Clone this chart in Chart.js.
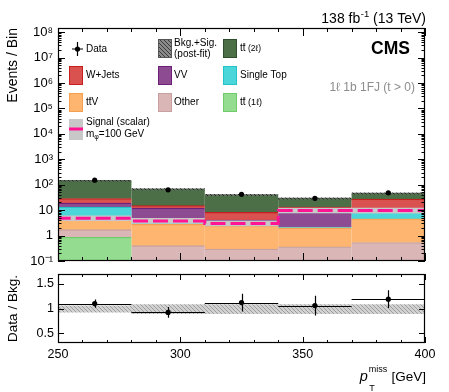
<!DOCTYPE html>
<html><head><meta charset="utf-8">
<script src="https://cdn.jsdelivr.net/npm/chart.js@4.4.1/dist/chart.umd.min.js"></script>
<style>
html,body{margin:0;padding:0;background:#fff;}
#wrap{position:relative;width:449px;height:392px;}
canvas{position:absolute;left:0;top:0;}
</style></head><body>
<div id="wrap"><canvas id="main" width="449" height="392"></canvas><canvas id="ratio" width="449" height="392"></canvas></div>
<script>
// ---------------- data ----------------
const binEdges = [250, 280, 310, 340, 370, 400];
const ttbar1l   = [0.83, 0, 0, 0, 0];
const other     = [0.83, 0.39, 0.29, 0.35, 0.52];
const ttV       = [2.8, 2.3, 2.1, 1.6, 3.9];
const singleTop = [8.5, 1.5, 0.4, 0.15, 4.1];
const vv        = [5.7, 7.6, 1.2, 5.4, 2.5];
const wjets     = [9.3, 2.8, 4.0, 5.4, 15.8];
const ttbar2l   = [117, 53, 32, 16.4, 19];
const signal    = [5.9, 4.8, 3.76, 3.0, 9.6];
const signalLo  = [4.5, 3.7, 2.9, 2.3, 7.4];
const signalHi  = [7.6, 6.2, 4.9, 3.9, 12.4];
const dataCounts = [150, 63, 42, 29, 48];
const dataErr    = [12, 8, 6.5, 5.4, 7];
const ratioVals  = [1.10, 0.92, 1.12, 1.06, 1.19];
const ratioErr   = [0.085, 0.11, 0.18, 0.20, 0.18];
const uncLo      = [0.93, 0.90, 0.90, 0.90, 0.90];
const uncHi      = [1.05, 1.075, 1.075, 1.075, 1.075];
const xTickValues = [250, 300, 350, 400];
const xTickLabels = ['250', '300', '350', '400'];
const yTickValues = [0.1, 1, 10, 1e2, 1e3, 1e4, 1e5, 1e6, 1e7, 1e8];
const yTickLabels = ['10\u207B\u00B9', '1', '10', '10\u00B2', '10\u00B3', '10\u2074', '10\u2075', '10\u2076', '10\u2077', '10\u2078'];
const ratioTickValues = [0.5, 1, 1.5];
const ratioTickLabels = ['0.5', '1', '1.5'];

const FF = '"Liberation Sans", Arial, Helvetica, sans-serif';
const centers = binEdges.slice(0, -1).map((e, i) => (e + binEdges[i + 1]) / 2);
const toXY = arr => arr.map((v, i) => ({x: centers[i], y: v}));
const stepXY = arr => binEdges.map((e, i) => ({x: e, y: arr[Math.min(i, arr.length - 1)]}));

const components = [
  {label: 'tt\u0304 (1\u2113)', data: ttbar1l,   bg: '#94dc90', bd: '#70cc6a'},
  {label: 'Other',              data: other,     bg: '#dab6b6', bd: '#c9a0a0'},
  {label: 'tt\u0304V',          data: ttV,       bg: '#feb56f', bd: '#f5a050'},
  {label: 'Single Top',         data: singleTop, bg: '#4bd7d9', bd: '#22c2c6'},
  {label: 'VV',                 data: vv,        bg: '#8d4b92', bd: '#6d1f78'},
  {label: 'W+Jets',             data: wjets,     bg: '#da5250', bd: '#c41e1e'},
  {label: 'tt\u0304 (2\u2113)', data: ttbar2l,   bg: '#4c6f48', bd: '#2f4f2c'}
];
const totals = centers.map((c, i) => components.reduce((s, k) => s + k.data[i], 0));

function makeHatch(canvasId, bg, fg, size, lw) {
  const c = document.createElement('canvas'); c.width = size; c.height = size;
  const g = c.getContext('2d');
  if (bg) { g.fillStyle = bg; g.fillRect(0, 0, size, size); }
  g.strokeStyle = fg; g.lineWidth = lw; g.beginPath();
  g.moveTo(0, 0); g.lineTo(size, size);
  g.moveTo(-size / 2, size / 2); g.lineTo(size / 2, size * 1.5);
  g.moveTo(size / 2, -size / 2); g.lineTo(size * 1.5, size / 2);
  g.stroke();
  return document.getElementById(canvasId).getContext('2d').createPattern(c, 'repeat');
}
const mainHatch = makeHatch('main', 'rgba(120,120,120,0.55)', 'rgba(30,30,30,0.9)', 4, 1);
const legendHatch = makeHatch('main', '#8a8a8a', '#3a3a3a', 4, 1);
const ratioHatch = makeHatch('ratio', '#d2d2d2', '#9c9c9c', 4, 1);

// ---------------- helpers ----------------
function txt(ctx, s, x, y, size, o = {}) {
  ctx.font = `${o.bold ? 'bold ' : ''}${o.italic ? 'italic ' : ''}${size}px ${FF}`;
  ctx.fillStyle = o.color || '#000';
  ctx.textAlign = o.align || 'left';
  ctx.textBaseline = o.base || 'middle';
  ctx.fillText(s, x, y);
  return ctx.measureText(s).width;
}
function ttbarTxt(ctx, x, y, size) {
  const w = txt(ctx, 'tt', x, y, size);
  const wt = ctx.measureText('t').width;
  ctx.save(); ctx.strokeStyle = '#000'; ctx.lineWidth = 0.8; ctx.beginPath();
  ctx.moveTo(x + wt + 0.4, y - size * 0.46); ctx.lineTo(x + 2 * wt - 0.2, y - size * 0.46); ctx.stroke(); ctx.restore();
  return w;
}
function drawFrameTicks(chart, cfg) {
  const {ctx, chartArea: a} = chart;
  const xs = chart.scales.x;
  ctx.save();
  ctx.strokeStyle = '#000'; ctx.lineWidth = 1;
  ctx.beginPath();
  for (let v = xs.min; v <= xs.max + 1e-9; v += 10) {
    const px = Math.round(xs.getPixelForValue(v)) + 0.5;
    const L = (Math.abs(v % 50) < 1e-6) ? cfg.xMaj : cfg.xMin;
    ctx.moveTo(px, a.bottom); ctx.lineTo(px, a.bottom - L);
    ctx.moveTo(px, a.top); ctx.lineTo(px, a.top + L);
  }
  cfg.yTicks.forEach(([py, major]) => {
    const y = Math.round(py) + 0.5;
    const L = major ? cfg.yMaj : cfg.yMin;
    ctx.moveTo(a.left, y); ctx.lineTo(a.left + L, y);
    ctx.moveTo(a.right, y); ctx.lineTo(a.right - L, y);
  });
  ctx.stroke();
  ctx.lineWidth = 1.2;
  ctx.strokeRect(a.left + 0.5, a.top + 0.5, a.right - a.left - 1, a.bottom - a.top - 1);
  ctx.restore();
}
function legendBox(ctx, x, y, w, h, fill, stroke) {
  ctx.fillStyle = fill; ctx.fillRect(x, y, w, h);
  if (stroke) { ctx.strokeStyle = stroke; ctx.lineWidth = 1; ctx.strokeRect(x + 0.5, y + 0.5, w - 1, h - 1); }
}

// ---------------- main plugin ----------------
const mainDeco = {
  id: 'mainDeco',
  afterDatasetsDraw(chart) {
    const {ctx} = chart; const xs = chart.scales.x, ys = chart.scales.y;
    ctx.save(); ctx.strokeStyle = '#000'; ctx.lineWidth = 1.2; ctx.beginPath();
    dataCounts.forEach((v, i) => {
      const px = Math.round(xs.getPixelForValue(centers[i])) + 0.5;
      ctx.moveTo(px, ys.getPixelForValue(v - dataErr[i]));
      ctx.lineTo(px, ys.getPixelForValue(v + dataErr[i]));
    });
    ctx.stroke(); ctx.restore();
  },
  afterDraw(chart) {
    const {ctx} = chart; const ys = chart.scales.y;
    const yt = [];
    for (let e = -1; e <= 8; e++) for (let k = 1; k <= 9; k++) {
      const v = k * Math.pow(10, e);
      if (v >= ys.min && v <= ys.max) yt.push([ys.getPixelForValue(v), k === 1]);
    }
    drawFrameTicks(chart, {xMaj: 8, xMin: 4, yMaj: 7, yMin: 3.5, yTicks: yt});

    ctx.save();
    // header
    let xr = 426;
    ctx.font = `14px ${FF}`;
    const wTail = ctx.measureText(' (13 TeV)').width;
    txt(ctx, ' (13 TeV)', xr, 22.5, 14, {align: 'right', base: 'alphabetic'});
    ctx.font = `9.5px ${FF}`;
    const wSup = ctx.measureText('-1').width;
    txt(ctx, '-1', xr - wTail, 16.5, 9.5, {align: 'right', base: 'alphabetic'});
    txt(ctx, '138 fb', xr - wTail - wSup - 0.5, 22.5, 14, {align: 'right', base: 'alphabetic'});
    // CMS
    txt(ctx, 'CMS', 410, 54.3, 17.5, {bold: true, align: 'right', base: 'alphabetic'});
    // region
    txt(ctx, '1\u2113 1b 1FJ (t > 0)', 415, 90.8, 12, {align: 'right', base: 'alphabetic', color: '#8c8c8c'});

    // legend
    const LS = 10;
    ctx.strokeStyle = '#000'; ctx.lineWidth = 1.2; ctx.beginPath();
    ctx.moveTo(77.5, 42); ctx.lineTo(77.5, 56); ctx.moveTo(72, 49); ctx.lineTo(83, 49); ctx.stroke();
    ctx.fillStyle = '#000'; ctx.beginPath(); ctx.arc(77.5, 49, 2.6, 0, Math.PI * 2); ctx.fill();
    txt(ctx, 'Data', 86, 49, LS);
    legendBox(ctx, 158, 39, 14, 19, legendHatch, '#555');
    txt(ctx, 'Bkg.+Sig.', 174, 43, LS);
    txt(ctx, '(post-fit)', 174, 54, LS);
    legendBox(ctx, 223, 39, 14, 19, components[6].bg, components[6].bd);
    let w = ttbarTxt(ctx, 240, 48.5, LS);
    txt(ctx, ' (2\u2113)', 240 + w, 48.5, 8.5);
    legendBox(ctx, 69, 66, 14, 19, components[5].bg, components[5].bd);
    txt(ctx, 'W+Jets', 86, 75.5, LS);
    legendBox(ctx, 158, 66, 14, 19, components[4].bg, components[4].bd);
    txt(ctx, 'VV', 174, 75.5, LS);
    legendBox(ctx, 223, 66, 14, 19, components[3].bg, components[3].bd);
    txt(ctx, 'Single Top', 240, 75, LS);
    legendBox(ctx, 69, 93, 14, 19, components[2].bg, components[2].bd);
    w = ttbarTxt(ctx, 86, 102.5, LS);
    txt(ctx, 'V', 86 + w, 102.5, LS);
    legendBox(ctx, 158, 93, 14, 19, components[1].bg, components[1].bd);
    txt(ctx, 'Other', 174, 102, LS);
    legendBox(ctx, 223, 93, 14, 19, components[0].bg, components[0].bd);
    w = ttbarTxt(ctx, 240, 102.5, LS);
    txt(ctx, ' (1\u2113)', 240 + w, 102.5, 9);
    legendBox(ctx, 69, 119, 14, 21, '#c8c8c8', null);
    ctx.fillStyle = '#ff1493'; ctx.fillRect(69, 127.5, 14, 3);
    txt(ctx, 'Signal (scalar)', 86, 122, LS);
    w = txt(ctx, 'm', 86, 134, LS);
    const wphi = txt(ctx, '\u03C6', 86 + w, 137, 7);
    txt(ctx, '=100 GeV', 86 + w + wphi, 134, LS);
    ctx.restore();
  }
};

// ---------------- main chart ----------------
const mainDatasets = components.map(c => ({
  type: 'bar', label: c.label, data: toXY(c.data), stack: 'bkg', order: 10,
  backgroundColor: c.bg, borderColor: c.bd,
  borderWidth: {top: 1.3, left: 0, right: 0, bottom: 0}, borderSkipped: false,
  grouped: false, barPercentage: 1, categoryPercentage: 1, inflateAmount: 0.6
}));
mainDatasets.push({
  type: 'bar', label: 'Bkg.+Sig. (post-fit)', stack: 'unc', order: 3,
  data: totals.map((t, i) => ({x: centers[i], y: [t * uncLo[i], t * uncHi[i]]})),
  backgroundColor: mainHatch, borderWidth: 0,
  grouped: false, barPercentage: 1, categoryPercentage: 1, inflateAmount: 0
});
mainDatasets.push({
  type: 'line', label: 'signal band lo', stack: 'sblo', order: 5, data: stepXY(signalLo),
  stepped: 'after', borderWidth: 0, pointRadius: 0, fill: false, borderColor: 'rgba(0,0,0,0)'
});
mainDatasets.push({
  type: 'line', label: 'signal band hi', stack: 'sbhi', order: 5, data: stepXY(signalHi),
  stepped: 'after', borderWidth: 0, pointRadius: 0, fill: '-1', backgroundColor: '#c8c8c8', borderColor: 'rgba(0,0,0,0)'
});
mainDatasets.push({
  type: 'line', label: 'Signal (scalar) m=100 GeV', stack: 'sig', order: 4, data: stepXY(signal),
  stepped: 'after', borderWidth: 3, borderDash: [15, 5], borderColor: '#ff1493', pointRadius: 0, fill: false
});
mainDatasets.push({
  type: 'line', label: 'Data', stack: 'data', order: 1, data: toXY(dataCounts),
  showLine: false, pointRadius: 2.6, pointBackgroundColor: '#000', pointBorderWidth: 0, borderColor: '#000'
});

new Chart(document.getElementById('main'), {
  data: {datasets: mainDatasets},
  options: {
    responsive: false, animation: false, devicePixelRatio: 1,
    layout: {padding: {top: 28, right: 24, bottom: 131, left: 0}},
    plugins: {legend: {display: false}, tooltip: {enabled: false}},
    scales: {
      x: {type: 'linear', min: 250, max: 400, display: false, stacked: true, offset: false,
          afterBuildTicks: s => { s.ticks = xTickValues.map(v => ({value: v})); }},
      y: {type: 'logarithmic', min: 0.1, max: 1.45e8, stacked: true,
          afterBuildTicks: s => { s.ticks = yTickValues.map(v => ({value: v})); },
          afterFit: s => { s.width = 58; },
          grid: {display: false, drawTicks: false}, border: {display: false},
          ticks: {autoSkip: false, padding: 5, color: '#000', font: {family: FF, size: 13},
                  callback: (v, i) => yTickLabels[i]},
          title: {display: true, text: 'Events / Bin', align: 'end', color: '#000',
                  font: {family: FF, size: 14}, padding: {top: 5, bottom: 0}}}
    }
  },
  plugins: [mainDeco]
});

// ---------------- ratio chart ----------------
const ratioDeco = {
  id: 'ratioDeco',
  afterDatasetsDraw(chart) {
    const {ctx} = chart; const xs = chart.scales.x, ys = chart.scales.y;
    ctx.save(); ctx.strokeStyle = '#000'; ctx.lineWidth = 1.2; ctx.beginPath();
    ratioVals.forEach((v, i) => {
      const px = Math.round(xs.getPixelForValue(centers[i])) + 0.5;
      const py = Math.round(ys.getPixelForValue(v)) + 0.5;
      ctx.moveTo(px, ys.getPixelForValue(v - ratioErr[i]));
      ctx.lineTo(px, ys.getPixelForValue(v + ratioErr[i]));
      ctx.moveTo(xs.getPixelForValue(binEdges[i]), py);
      ctx.lineTo(xs.getPixelForValue(binEdges[i + 1]), py);
    });
    ctx.stroke(); ctx.restore();
  },
  afterDraw(chart) {
    const {ctx} = chart; const ys = chart.scales.y;
    const yt = ratioTickValues.map(v => [ys.getPixelForValue(v), true]);
    drawFrameTicks(chart, {xMaj: 6, xMin: 3, yMaj: 6, yMin: 3, yTicks: yt});
    ctx.save();
    const base = 380.5;
    ctx.font = `13.5px ${FF}`;
    const wG = ctx.measureText(' [GeV]').width;
    txt(ctx, ' [GeV]', 426, base, 13.5, {align: 'right', base: 'alphabetic'});
    ctx.font = `9px ${FF}`;
    const wm = ctx.measureText('miss').width;
    const xs0 = 426 - wG - wm - 0.5;
    txt(ctx, 'miss', xs0, base - 8.5, 9, {base: 'alphabetic'});
    txt(ctx, 'T', xs0 + 0.5, base + 10.5, 9, {base: 'alphabetic'});
    txt(ctx, 'p', xs0 - 1, base, 14.5, {italic: true, align: 'right', base: 'alphabetic'});
    ctx.restore();
  }
};

new Chart(document.getElementById('ratio'), {
  data: {datasets: [
    {type: 'bar', label: 'Bkg. unc.', data: centers.map((c, i) => ({x: c, y: [uncLo[i], uncHi[i]]})),
     backgroundColor: ratioHatch, borderWidth: 0, grouped: false, barPercentage: 1, categoryPercentage: 1, inflateAmount: 0.6, order: 5},
    {type: 'line', label: 'Data / Bkg.', data: toXY(ratioVals), showLine: false, pointRadius: 2.6,
     pointBackgroundColor: '#000', pointBorderWidth: 0, borderColor: '#000', order: 1}
  ]},
  options: {
    responsive: false, animation: false, devicePixelRatio: 1,
    layout: {padding: {top: 274, right: 24, bottom: 27, left: 0}},
    plugins: {legend: {display: false}, tooltip: {enabled: false}},
    scales: {
      x: {type: 'linear', min: 250, max: 400, offset: false,
          afterBuildTicks: s => { s.ticks = xTickValues.map(v => ({value: v})); },
          afterFit: s => { s.height = 22; },
          grid: {display: false, drawTicks: false, offset: false}, border: {display: false},
          ticks: {autoSkip: false, maxRotation: 0, padding: 4, color: '#000', font: {family: FF, size: 12.5},
                  callback: (v, i) => xTickLabels[i]}},
      y: {type: 'linear', min: 0.3, max: 1.7,
          afterBuildTicks: s => { s.ticks = ratioTickValues.map(v => ({value: v})); },
          afterFit: s => { s.width = 58; },
          grid: {display: false, drawTicks: false}, border: {display: false},
          ticks: {autoSkip: false, padding: 4, color: '#000', font: {family: FF, size: 12.5},
                  callback: (v, i) => ratioTickLabels[i]},
          title: {display: true, text: 'Data / Bkg.', align: 'center', color: '#000',
                  font: {family: FF, size: 13.5}, padding: {top: 5, bottom: 0}}}
    }
  },
  plugins: [ratioDeco]
});
</script>
</body></html>
